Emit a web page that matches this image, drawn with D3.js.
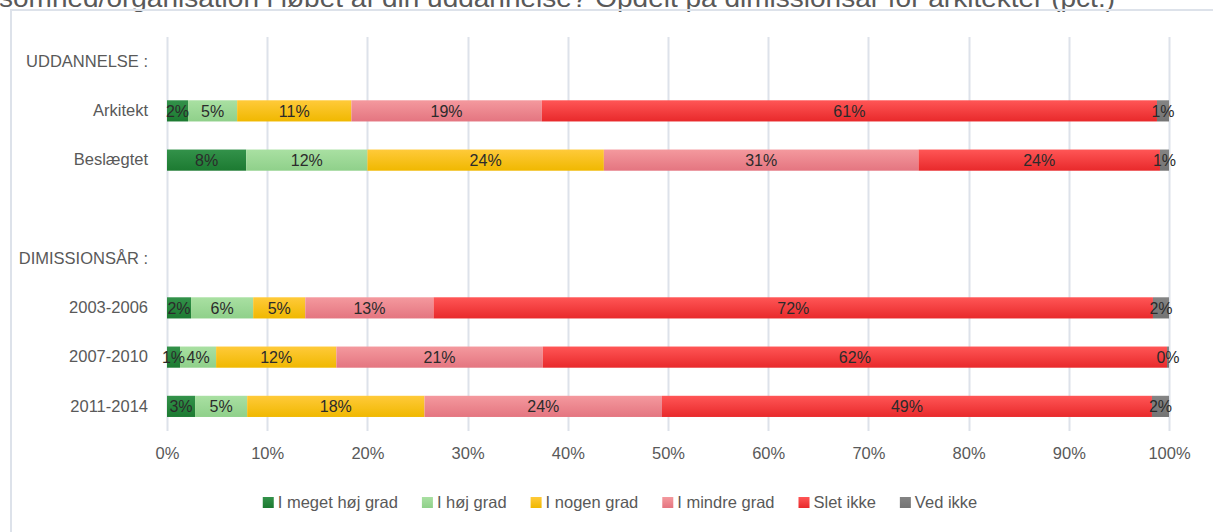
<!DOCTYPE html>
<html>
<head>
<meta charset="utf-8">
<script src="https://cdn.jsdelivr.net/npm/d3@7"></script>
<style>
  body { margin: 0; background: #fff; }
  svg { display: block; font-family: "Liberation Sans", Arial, sans-serif; }
</style>
</head>
<body>
<svg id="chart" width="1213" height="532"></svg>
<script>
// categories, top to bottom ("" is the blank spacer row)
var categories = ["UDDANNELSE :", "Arkitekt", "Beslægtet", "", "DIMISSIONSÅR :", "2003-2006", "2007-2010", "2011-2014"];
var seriesNames = ["I meget høj grad", "I høj grad", "I nogen grad", "I mindre grad", "Slet ikke", "Ved ikke"];
var barRows = ["Arkitekt", "Beslægtet", "2003-2006", "2007-2010", "2011-2014"];

// shares per row, in series order (pct.)
var meget_hoej = [2.1, 7.9, 2.4, 1.3, 2.8];
var hoej       = [4.9, 12.1, 6.2, 3.6, 5.2];
var nogen      = [11.4, 23.6, 5.2, 12.0, 17.7];
var mindre     = [19.0, 31.4, 12.8, 20.6, 23.7];
var slet_ikke  = [61.4, 24.1, 71.8, 62.3, 48.9];
var ved_ikke   = [1.2, 0.9, 1.6, 0.2, 1.7];

var tickValues = [0, 10, 20, 30, 40, 50, 60, 70, 80, 90, 100];
var titleText = "somhed/organisation i løbet af din uddannelse? Opdelt på dimissionsår for arkitekter (pct.)";

var colors = [
  ["#33924a", "#1c7a31"],
  ["#a9e0a2", "#8fd08a"],
  ["#ffca3a", "#f0b800"],
  ["#f4999e", "#e47580"],
  ["#ff5656", "#e8292b"],
  ["#848484", "#747474"]
];

var seriesData = [meget_hoej, hoej, nogen, mindre, slet_ikke, ved_ikke];

// build table for d3.stack
var table = barRows.map(function(name, i) {
  var row = { name: name };
  seriesNames.forEach(function(s, j) { row[s] = seriesData[j][i]; });
  return row;
});

var svg = d3.select("#chart");
var margin = { left: 167, right: 44, top: 37, bottom: 101 };
var width = 1213 - margin.left - margin.right;
var height = 532 - margin.top - margin.bottom;

var defs = svg.append("defs");
colors.forEach(function(c, i) {
  var g = defs.append("linearGradient").attr("id", "grad" + i)
    .attr("x1", 0).attr("y1", 0).attr("x2", 0).attr("y2", 1);
  g.append("stop").attr("offset", "0%").attr("stop-color", c[0]);
  g.append("stop").attr("offset", "100%").attr("stop-color", c[1]);
});

// title (cut at the top like the reference)
svg.append("text")
  .attr("x", -1)
  .attr("y", 7)
  .attr("fill", "#595959")
  .style("font-size", "26px")
  .attr("textLength", 1116)
  .attr("lengthAdjust", "spacingAndGlyphs")
  .text(titleText);

// chart border
svg.append("path")
  .attr("d", "M1214,10 H11 V533")
  .attr("fill", "none")
  .attr("stroke", "#dde2ea")
  .attr("stroke-width", 2);

var x = d3.scaleLinear().domain([0, 100]).range([0, width]);
var y = d3.scaleBand().domain(categories).range([0, height]).paddingInner(0.57).paddingOuter(0.285);

var g = svg.append("g").attr("transform", "translate(" + margin.left + "," + margin.top + ")");

// gridlines
g.append("g")
  .selectAll("line")
  .data(tickValues)
  .enter()
  .append("line")
  .attr("x1", function(d) { return Math.round(x(d)) + 0.5; })
  .attr("x2", function(d) { return Math.round(x(d)) + 0.5; })
  .attr("y1", 0)
  .attr("y2", height)
  .attr("stroke", "#dde2ea")
  .attr("stroke-width", 2);

// x axis labels
var xAxis = g.append("g")
  .attr("transform", "translate(0," + height + ")")
  .call(d3.axisBottom(x).tickValues(tickValues).tickSize(0).tickPadding(16)
    .tickFormat(function(d) { return d + "%"; }));
xAxis.select(".domain").remove();
xAxis.selectAll("text")
  .attr("fill", "#595959")
  .style("font-size", "16.5px")
  .style("font-family", "Liberation Sans, Arial, sans-serif");

// y axis labels
var yAxis = g.append("g")
  .call(d3.axisLeft(y).tickSize(0).tickPadding(19));
yAxis.select(".domain").remove();
yAxis.selectAll("text")
  .attr("fill", "#595959")
  .style("font-size", "16.5px")
  .style("font-family", "Liberation Sans, Arial, sans-serif");

// stacked bars
var stack = d3.stack().keys(seriesNames);
var layers = stack(table);

var layer = g.selectAll(".layer")
  .data(layers)
  .enter()
  .append("g")
  .attr("class", "layer")
  .attr("fill", function(d, i) { return "url(#grad" + i + ")"; });

layer.selectAll("rect")
  .data(function(d) { return d; })
  .enter()
  .append("rect")
  .attr("x", function(d) { return x(d[0]); })
  .attr("y", function(d) { return y(d.data.name); })
  .attr("width", function(d) { return x(d[1]) - x(d[0]); })
  .attr("height", y.bandwidth());

// data labels
var lbl = g.selectAll(".lbl")
  .data(layers)
  .enter()
  .append("g")
  .attr("class", "lbl");

lbl.selectAll("text")
  .data(function(d) { return d; })
  .enter()
  .append("text")
  .attr("x", function(d) { return (x(d[0]) + x(d[1])) / 2; })
  .attr("y", function(d) { return y(d.data.name) + y.bandwidth() / 2; })
  .attr("dy", "0.36em")
  .attr("text-anchor", "middle")
  .attr("fill", "#2b2b2b")
  .style("font-size", "16px")
  .text(function(d) { return Math.round(d[1] - d[0]) + "%"; });

// legend
var legend = svg.append("g");
var pos = 0;
var gap = 24;
seriesNames.forEach(function(s, i) {
  var item = legend.append("g");
  item.append("rect")
    .attr("x", 0).attr("y", -5)
    .attr("width", 11).attr("height", 11)
    .attr("fill", "url(#grad" + i + ")");
  var t = item.append("text")
    .attr("x", 15).attr("y", 0)
    .attr("dy", "0.36em")
    .attr("fill", "#595959")
    .style("font-size", "16.5px")
    .text(s);
  var w = 15 + t.node().getComputedTextLength();
  item.attr("transform", "translate(" + pos + ",0)");
  pos += w + gap;
});
var total = pos - gap;
legend.attr("transform", "translate(" + (620 - total / 2) + ",502)");
</script>
</body>
</html>
